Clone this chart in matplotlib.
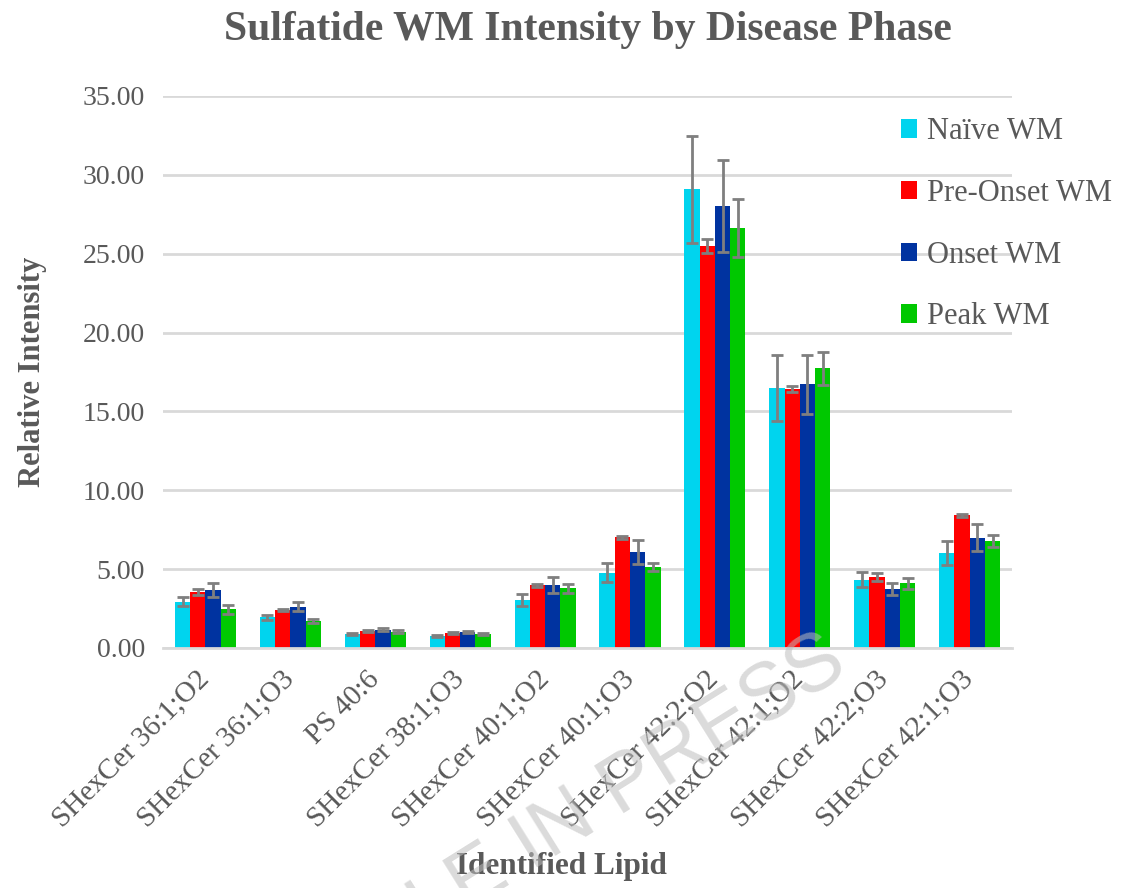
import matplotlib.pyplot as plt
import numpy as np
from matplotlib.patches import Patch

# lipid species on the x axis
lipids = ["SHexCer 36:1;O2", "SHexCer 36:1;O3", "PS 40:6", "SHexCer 38:1;O3",
          "SHexCer 40:1;O2", "SHexCer 40:1;O3", "SHexCer 42:2;O2", "SHexCer 42:1;O2",
          "SHexCer 42:2;O3", "SHexCer 42:1;O3"]

phases = ["Naïve WM", "Pre-Onset WM", "Onset WM", "Peak WM"]

# mean relative intensity per phase
naive = [2.94, 1.95, 0.91, 0.76, 3.04, 4.77, 29.09, 16.48, 4.34, 6.05]
pre_onset = [3.53, 2.41, 1.10, 0.95, 3.97, 7.02, 25.49, 16.44, 4.49, 8.42]
onset = [3.68, 2.62, 1.17, 1.00, 3.97, 6.10, 28.03, 16.71, 3.73, 7.00]
peak = [2.45, 1.71, 1.04, 0.86, 3.78, 5.15, 26.62, 17.73, 4.11, 6.79]

# standard error per phase
naive_err = [0.30, 0.15, 0.07, 0.07, 0.37, 0.60, 3.40, 2.10, 0.45, 0.76]
pre_onset_err = [0.18, 0.05, 0.06, 0.05, 0.10, 0.10, 0.42, 0.20, 0.25, 0.10]
onset_err = [0.45, 0.30, 0.12, 0.08, 0.50, 0.76, 2.94, 1.86, 0.37, 0.85]
peak_err = [0.27, 0.15, 0.07, 0.06, 0.28, 0.25, 1.83, 1.05, 0.34, 0.37]

colors = ["#00D4EE", "#FF0000", "#0033A0", "#00C800"]
text_color = "#595959"

plt.rcParams['font.family'] = ['Liberation Serif', 'DejaVu Serif']

fig = plt.figure(figsize=(11.22, 8.88), dpi=100)
ax = fig.add_axes([0.1453, 0.2703, 0.7567, 0.6216])

x = np.arange(len(lipids))
width = 0.18
series = [naive, pre_onset, onset, peak]
errors = [naive_err, pre_onset_err, onset_err, peak_err]

for i, (vals, errs) in enumerate(zip(series, errors)):
    pos = x + (i - 1.5) * width
    ax.bar(pos, vals, width, color=colors[i], zorder=2)
    ax.errorbar(pos, vals, yerr=errs, fmt='none', ecolor='#7f7f7f',
                elinewidth=2, capsize=4, capthick=2, zorder=3)

ax.set_xlim(-0.5, len(lipids) - 0.5)
ax.set_ylim(0, 35)
ax.set_yticks(np.arange(0, 36, 5))
ax.set_yticklabels([f"{v:.2f}" for v in np.arange(0, 36, 5)])
ax.yaxis.grid(True, color='#d9d9d9', linewidth=2)
ax.set_axisbelow(True)

for side in ['top', 'right', 'left']:
    ax.spines[side].set_visible(False)
ax.spines['bottom'].set_color('#d9d9d9')
ax.spines['bottom'].set_linewidth(2)

ax.tick_params(axis='both', length=0, colors=text_color)
ax.tick_params(axis='y', labelsize=20, pad=13)
ax.set_xticks(x)
ax.set_xticklabels(lipids, rotation=45, ha='right', va='center',
                   rotation_mode='anchor', fontsize=21, color=text_color)
ax.tick_params(axis='x', pad=20)

ax.set_ylabel("Relative Intensity", fontsize=22, fontweight='bold',
              color=text_color, labelpad=26)
fig.text(0.5, 0.024, "Identified Lipid", fontsize=22.5, fontweight='bold',
         color=text_color, ha='center', va='center')
fig.text(0.524, 0.966, "Sulfatide WM Intensity by Disease Phase", fontsize=30,
         fontweight='bold', color=text_color, ha='center', va='center')

handles = [Patch(facecolor=c, edgecolor='none') for c in colors]
leg = fig.legend(handles, phases, loc='upper left', bbox_to_anchor=(0.789, 0.885),
                 frameon=False, fontsize=22, handlelength=0.55, handleheight=0.55,
                 handletextpad=0.3, labelspacing=1.07, borderpad=0)
for t in leg.get_texts():
    t.set_color(text_color)

# watermark
fig.text(0.758, 0.243, "ARTICLE IN PRESS", fontsize=58, family='Liberation Sans',
         color='#bdbdbd', alpha=0.55, rotation=32, ha='right', va='baseline',
         rotation_mode='anchor', zorder=10)

fig.savefig("out.png", dpi=100)
